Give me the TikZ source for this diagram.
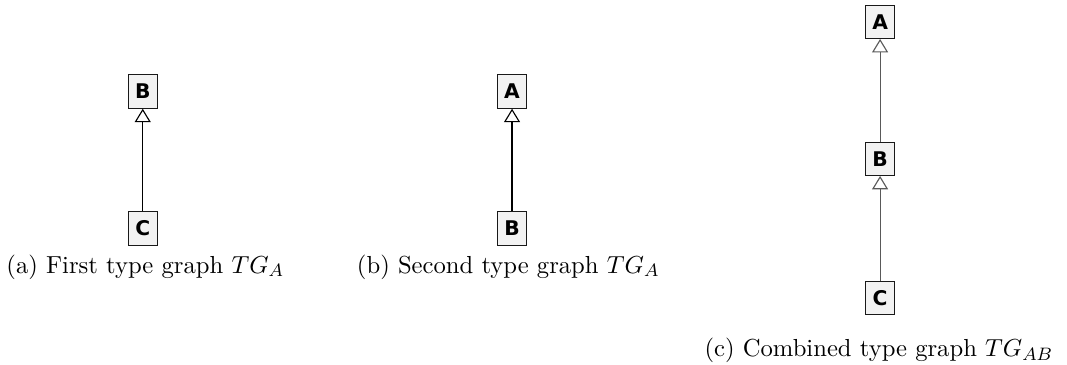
\documentclass[tikz,border=0pt]{standalone}
\usepackage{fontspec}
\newfontfamily\boxfont{DejaVu Sans}
\usetikzlibrary{positioning,arrows.meta}

\tikzset{
  typebox/.style={draw=black!90, fill=black!5, line width=0.5pt, inner sep=0pt,
    minimum width=0.45cm, minimum height=0.52cm, font=\boxfont\bfseries\small},
  inherit/.style={-{Triangle[open, length=0.21cm, width=0.25cm]}, line width=0.5pt},
  subcap/.style={font=\fontsize{10.95}{13}\selectfont}
}

\begin{document}
\begin{tikzpicture}
    \useasboundingbox (0,0) rectangle (16.67,-5.70);

    % --- (a) first type graph ---
    \node[typebox] (aB) at (2.23,-1.43) {B};
    \node[typebox] (aC) at (2.23,-3.57) {C};
    \draw[inherit] (aC) -- (aB);
    \node[subcap] (capA) at (2.27,-4.17) {(a) First type graph $TG_A$};

    % --- (b) second type graph ---
    \node[typebox] (bA) at (8.00,-1.43) {A};
    \node[typebox] (bB) at (8.00,-3.57) {B};
    \draw[inherit] (bB) -- (bA);
    \node[subcap] (capB) at (7.94,-4.17) {(b) Second type graph $TG_A$};

    % --- (c) combined type graph ---
    \node[typebox] (cA) at (13.75,-0.34) {A};
    \node[typebox] (cB) at (13.75,-2.48) {B};
    \node[typebox] (cC) at (13.75,-4.66) {C};
    \draw[inherit, black!65] (cB) -- (cA);
    \draw[inherit, black!65] (cC) -- (cB);
    \node[subcap] (capC) at (13.73,-5.47) {(c) Combined type graph $TG_{AB}$};
\end{tikzpicture}
\end{document}
